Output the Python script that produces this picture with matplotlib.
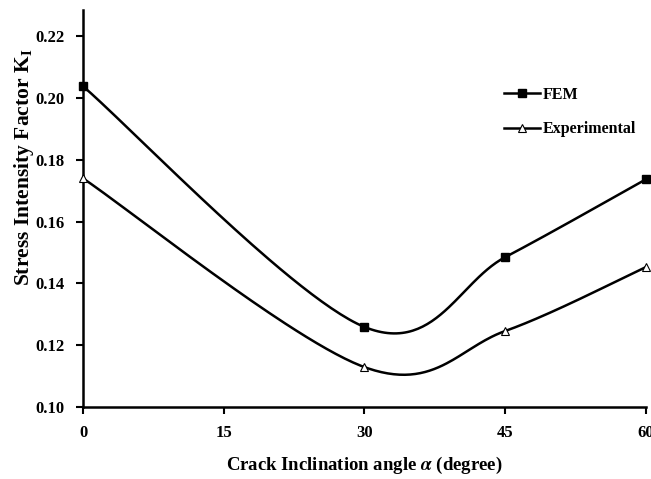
import numpy as np
import matplotlib
matplotlib.use("Agg")
import matplotlib.pyplot as plt
from matplotlib.lines import Line2D

angle = [0, 15, 30, 45, 60]
fem_x = [0, 30, 45, 60]
fem_y = [0.2038, 0.1259, 0.1485, 0.1737]
exp_x = [0, 30, 45, 60]
exp_y = [0.174, 0.1129, 0.1246, 0.1453]
yticks = [0.10, 0.12, 0.14, 0.16, 0.18, 0.20, 0.22]


def smooth(xs, ys, n=60):
    # spreadsheet-style smoothed line: cubic bezier with catmull-rom tangents
    p = np.column_stack([xs, ys]).astype(float)
    pts = [p[0]]
    for i in range(len(p) - 1):
        a = p[i - 1] if i > 0 else p[i]
        d = p[i + 2] if i + 2 < len(p) else p[i + 1]
        b, c = p[i], p[i + 1]
        c1 = b + (c - a) / 6
        c2 = c - (d - b) / 6
        t = np.linspace(0, 1, n)[1:, None]
        seg = (1 - t) ** 3 * b + 3 * (1 - t) ** 2 * t * c1 + 3 * (1 - t) * t ** 2 * c2 + t ** 3 * c
        pts.extend(seg)
    pts = np.array(pts)
    return pts[:, 0], pts[:, 1]


plt.rcParams['font.family'] = ['Liberation Serif', 'DejaVu Serif']
plt.rcParams['font.weight'] = 'bold'
plt.rcParams['mathtext.fontset'] = 'stix'

fig = plt.figure(figsize=(6.51, 4.79), dpi=100)
ax = fig.add_axes([0.1275, 0.1503, 0.8648, 0.829])

sx, sy = smooth(fem_x, fem_y)
ax.plot(sx, sy, color='black', lw=1.8, clip_on=False)
ax.plot(fem_x, fem_y, ls='none', marker='s', ms=6, color='black', clip_on=False, zorder=5)

sx, sy = smooth(exp_x, exp_y)
ax.plot(sx, sy, color='black', lw=1.8, clip_on=False)
ax.plot(exp_x, exp_y, ls='none', marker='^', ms=6, mfc='white', mec='black', mew=0.8,
        clip_on=False, zorder=5)

ax.set_xlim(0, 60)
ax.set_ylim(0.10, 0.2285)
ax.set_xticks(angle)
ax.set_yticks(yticks)
ax.set_yticklabels([f"{v:.2f}" for v in yticks])
ax.tick_params(direction='out', length=5, width=1.5, labelsize=12, pad=8)
for s in ['top', 'right']:
    ax.spines[s].set_visible(False)
for s in ['left', 'bottom']:
    ax.spines[s].set_linewidth(1.8)

ax.set_xlabel(r"Crack Inclination angle $\alpha$ (degree)", fontsize=13.5, fontweight='bold')
ax.xaxis.set_label_coords(0.5, -0.12)
ax.set_ylabel(r"Stress Intensity Factor K$_\mathregular{I}$", fontsize=15.5, fontweight='bold')
ax.yaxis.set_label_coords(-0.084, 0.605)

handles = [
    Line2D([], [], color='black', lw=1.8, marker='s', ms=6),
    Line2D([], [], color='black', lw=1.8, marker='^', ms=6, mfc='white', mew=0.8),
]
ax.legend(handles, ['FEM', 'Experimental'], loc='upper left', bbox_to_anchor=(0.723, 0.842),
          frameon=False, fontsize=11.5, handlelength=2.2, handletextpad=0.2, labelspacing=1.15)

fig.savefig("out.png", dpi=100)
